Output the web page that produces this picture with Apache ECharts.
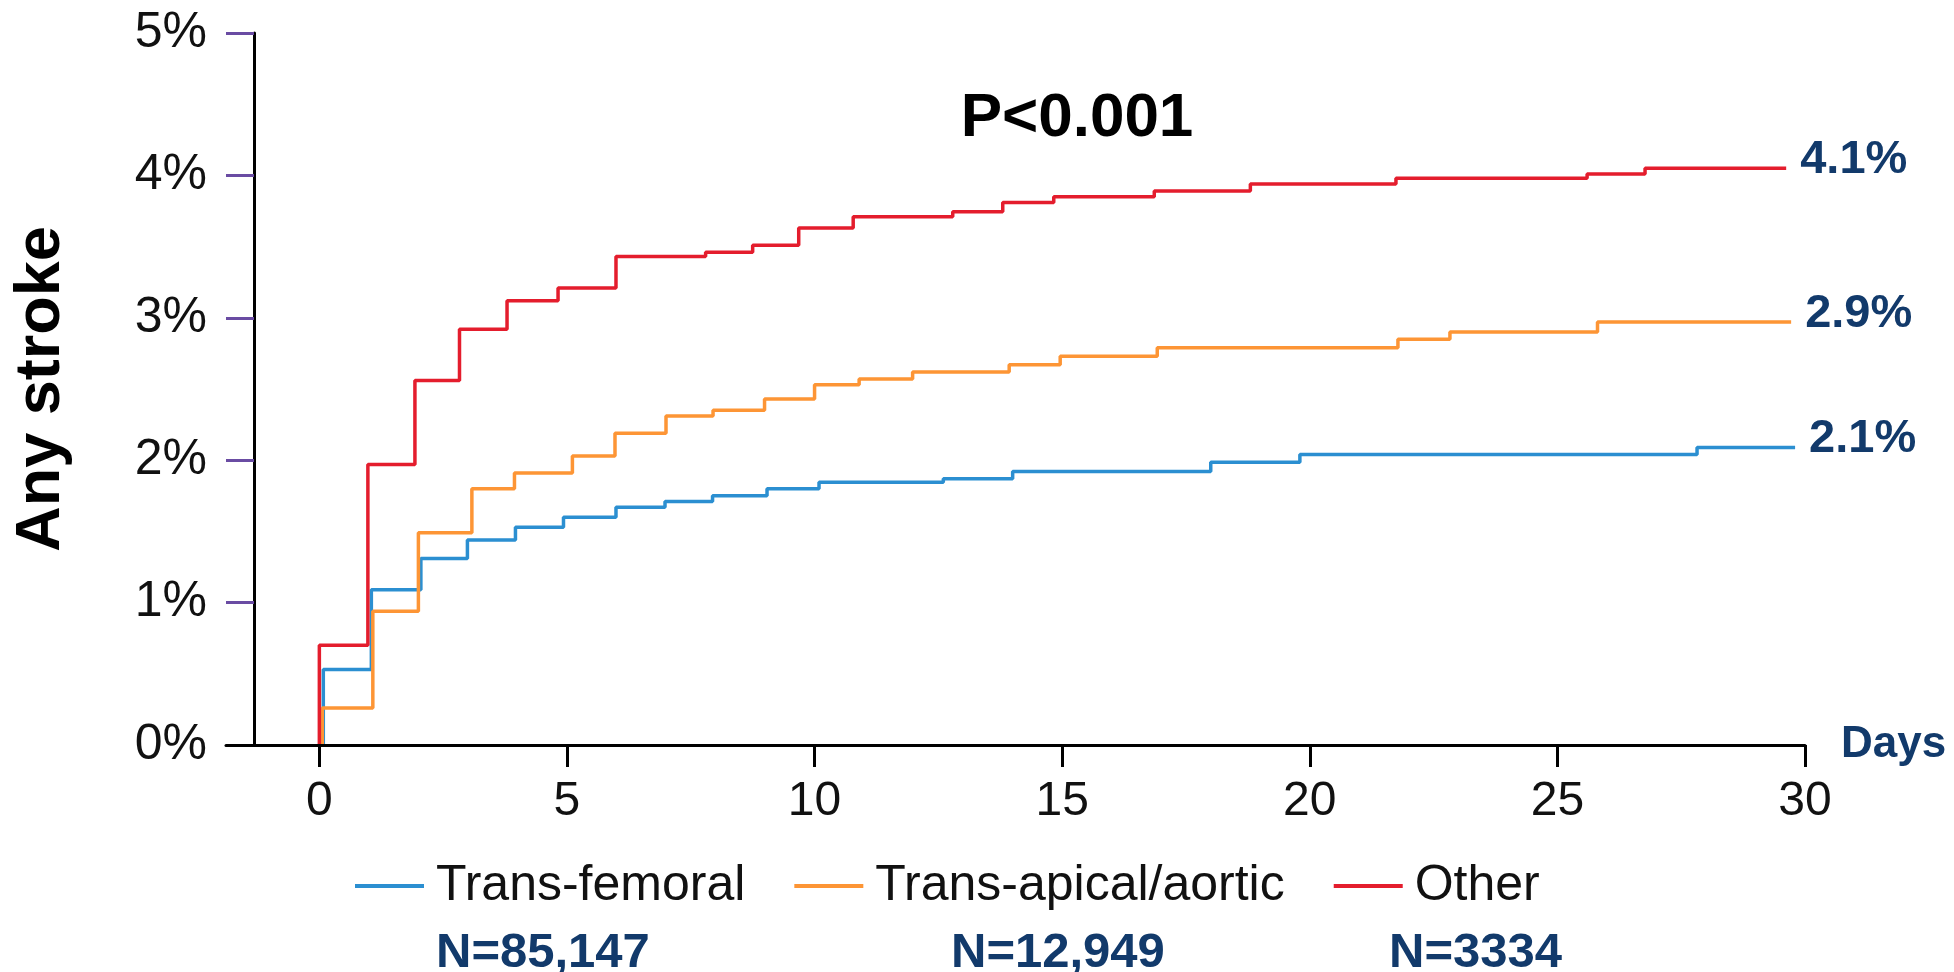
<!DOCTYPE html>
<html><head><meta charset="utf-8">
<script src="https://cdn.jsdelivr.net/npm/echarts@6/dist/echarts.min.js"></script>
<style>html,body{margin:0;padding:0;background:#fff}#c{width:1954px;height:972px}</style>
</head><body><div id="c"></div>
<script>
const seriesNames = ['Trans-femoral', 'Trans-apical/aortic', 'Other'];
const sampleSizes = ['N=85,147', 'N=12,949', 'N=3334'];
const endLabels = ['2.1%', '2.9%', '4.1%'];
const xTicks = [0, 5, 10, 15, 20, 25, 30];
const pValueText = 'P<0.001';

// Trans-femoral (blue)
const tfDays = [0, 0.08, 1.05, 2.05, 2.99, 3.96, 4.93, 5.99, 6.98, 7.94, 9.04, 10.09, 12.6, 14.0, 18.0, 19.8, 27.82, 29.8];
const tfPct  = [0, 0.53, 1.09, 1.31, 1.44, 1.53, 1.60, 1.67, 1.71, 1.75, 1.80, 1.845, 1.87, 1.92, 1.985, 2.04, 2.09, 2.09];
// Trans-apical/aortic (orange)
const apDays = [0, 0.06, 1.08, 2.0, 3.08, 3.94, 5.11, 5.97, 7.0, 7.95, 8.99, 10.0, 10.9, 11.98, 13.93, 14.96, 16.92, 21.78, 22.83, 25.81, 29.72];
const apPct  = [0, 0.26, 0.94, 1.49, 1.80, 1.91, 2.03, 2.19, 2.31, 2.35, 2.43, 2.53, 2.57, 2.62, 2.67, 2.73, 2.79, 2.85, 2.90, 2.97, 2.97];
// Other (red)
const otDays = [0, 0, 0.98, 1.93, 2.83, 3.79, 4.82, 5.99, 7.8, 8.75, 9.68, 10.78, 12.79, 13.8, 14.83, 16.86, 18.8, 21.74, 25.6, 26.77, 29.62];
const otPct  = [0, 0.70, 1.97, 2.56, 2.92, 3.12, 3.21, 3.43, 3.46, 3.51, 3.63, 3.71, 3.745, 3.81, 3.85, 3.89, 3.94, 3.98, 4.01, 4.05, 4.05];

const colors = ['#2b8fd1', '#fd9535', '#e41d2d'];
const navy = '#123a6b';
const FF = '"Liberation Sans", Arial, Helvetica, sans-serif';

function zip(a, b) { return a.map((d, i) => [d, b[i]]); }
const allData = [zip(tfDays, tfPct), zip(apDays, apPct), zip(otDays, otPct)];

const chart = echarts.init(document.getElementById('c'));
chart.setOption({
  animation: false,
  backgroundColor: '#fff',
  grid: { left: 226, right: 149, top: 33, bottom: 227, containLabel: false, outerBoundsMode: 'none' },
  xAxis: {
    type: 'value', min: -1.885, max: 30, z: 5,
    axisLine: { show: true, onZero: false, lineStyle: { color: '#000', width: 3 } },
    axisTick: { show: true, length: 22, inside: false, customValues: xTicks, lineStyle: { color: '#000', width: 3 } },
    axisLabel: { show: true, customValues: xTicks, margin: 33, fontSize: 48, color: '#111', fontFamily: FF },
    splitLine: { show: false },
    name: 'Days', nameLocation: 'end', nameGap: 36, nameMoveOverlap: false,
    nameTextStyle: { color: navy, fontSize: 44, fontWeight: 'bold', fontFamily: FF, verticalAlign: 'middle' }
  },
  yAxis: {
    type: 'value', min: 0, max: 5, interval: 1, offset: -28, z: 1,
    axisLine: { show: true, onZero: false, lineStyle: { color: '#000', width: 3 } },
    axisTick: { show: true, length: 28, inside: false, lineStyle: { color: '#6a4ca3', width: 3 } },
    axisLabel: { formatter: '{value}%', margin: 47, fontSize: 50, color: '#111', fontFamily: FF },
    splitLine: { show: false },
    name: 'Any stroke', nameLocation: 'middle', nameRotate: 90, nameGap: 181, nameMoveOverlap: false,
    nameTextStyle: { color: '#000', fontSize: 63, fontWeight: 'bold', fontFamily: FF }
  },
  legend: {
    data: seriesNames, left: 350, top: 856, icon: 'rect', itemWidth: 69, itemHeight: 4, itemGap: 49,
    textStyle: { fontSize: 50, color: '#111', fontFamily: FF, padding: [0, 0, 0, 7] }
  },
  series: seriesNames.map((name, i) => ({
    name: name, type: 'line', step: 'end', symbol: 'none', data: allData[i],
    lineStyle: { color: colors[i], width: 3.5 }, itemStyle: { color: colors[i] },
    endLabel: {
      show: true, formatter: endLabels[i], offset: [6, -8], color: navy,
      fontSize: 47, fontWeight: 'bold', fontFamily: FF
    }
  })),
  graphic: [
    { type: 'text', x: 1077, y: 119, style: { text: pValueText, font: 'bold 62px ' + FF, fill: '#000', align: 'center', verticalAlign: 'middle' } },
    { type: 'text', x: 436, y: 953, style: { text: sampleSizes[0], font: 'bold 49px ' + FF, fill: navy, align: 'left', verticalAlign: 'middle' } },
    { type: 'text', x: 951, y: 953, style: { text: sampleSizes[1], font: 'bold 49px ' + FF, fill: navy, align: 'left', verticalAlign: 'middle' } },
    { type: 'text', x: 1389, y: 953, style: { text: sampleSizes[2], font: 'bold 49px ' + FF, fill: navy, align: 'left', verticalAlign: 'middle' } }
  ]
});
</script></body></html>
